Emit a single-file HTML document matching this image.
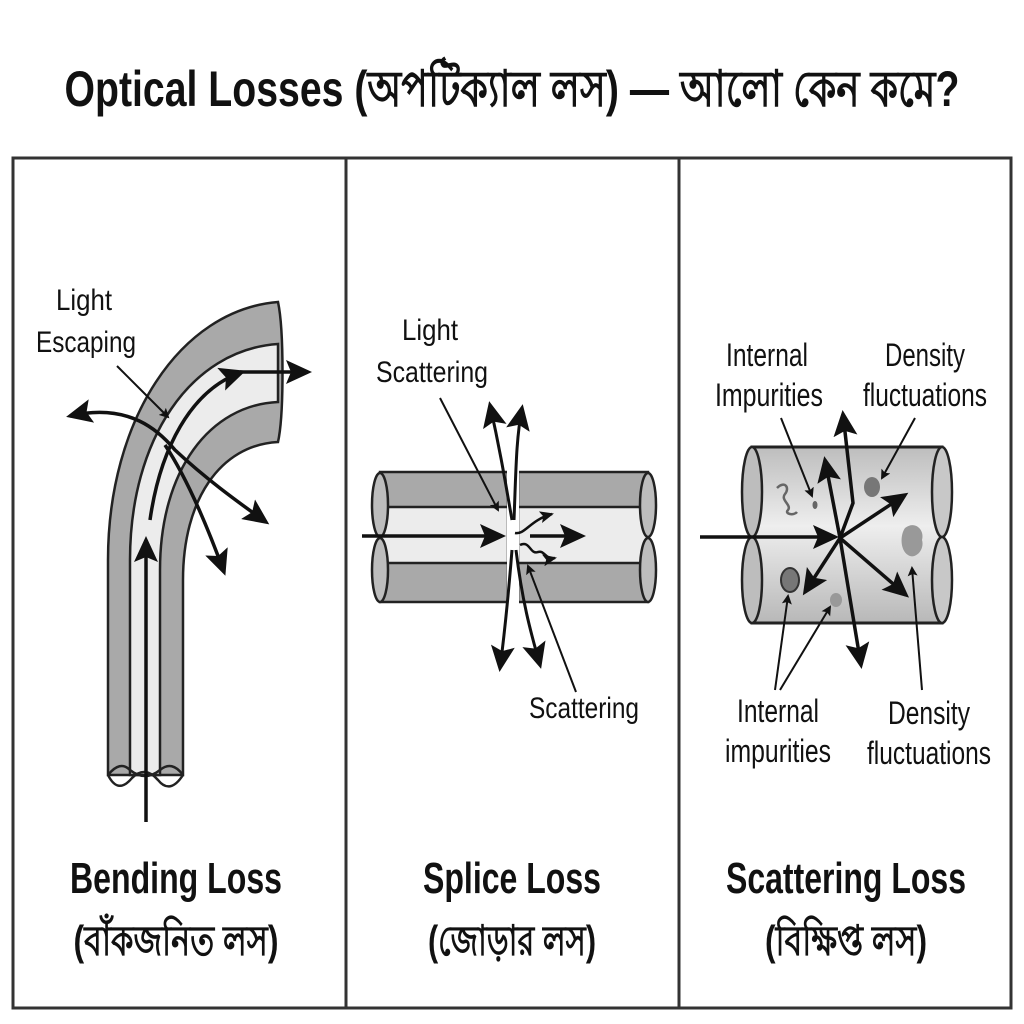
<!DOCTYPE html>
<html><head><meta charset="utf-8"><style>
html,body{margin:0;padding:0;background:#fff}
svg{display:block}
text{font-family:"Liberation Sans","Noto Sans CJK SC",sans-serif;fill:#111}
.t{font-weight:bold}
</style></head><body>
<svg width="1024" height="1024" viewBox="0 0 1024 1024" xmlns="http://www.w3.org/2000/svg">
<defs>
<marker id="ah" markerWidth="10" markerHeight="10" refX="8" refY="5" orient="auto" markerUnits="userSpaceOnUse" viewBox="0 0 10 10">
<path d="M0,0 L10,5 L0,10 L2,5 z" fill="#111"/></marker>
<marker id="ab" markerWidth="26" markerHeight="24" refX="22" refY="12" orient="auto-start-reverse" markerUnits="userSpaceOnUse" viewBox="0 0 26 24">
<path d="M0,0 L26,12 L0,24 L5,12 z" fill="#111"/></marker>
<marker id="as" markerWidth="14" markerHeight="12" refX="12" refY="6" orient="auto" markerUnits="userSpaceOnUse" viewBox="0 0 14 12">
<path d="M0,0 L14,6 L0,12 L3,6 z" fill="#111"/></marker>
<linearGradient id="cyl" x1="0" y1="0" x2="0" y2="1">
<stop offset="0" stop-color="#bdbdbd"/><stop offset="0.45" stop-color="#eeeeee"/><stop offset="1" stop-color="#b8b8b8"/></linearGradient>
</defs>
<rect width="1024" height="1024" fill="#fff"/>
<text x="512" y="106" class="t" font-size="50" text-anchor="middle" textLength="895" lengthAdjust="spacingAndGlyphs">Optical Losses (অপটিক্যাল লস) — আলো কেন কমে?</text>
<rect x="13" y="158" width="998" height="850" fill="none" stroke="#333" stroke-width="3"/>
<line x1="346" y1="158" x2="346" y2="1008" stroke="#333" stroke-width="3"/>
<line x1="679" y1="158" x2="679" y2="1008" stroke="#333" stroke-width="3"/>

<!-- Panel 1: bending -->
<path d="M108,775 L108,560 C108,420 180,310 278,302 C284,330 284,415 278,442 C220,445 183,500 183,580 L183,775 Z" fill="#a9a9a9" stroke="#222" stroke-width="2.5"/>
<path d="M130,775 L130,560 C130,440 190,350 278,344 L278,402 C210,405 160,470 160,570 L160,775 Z" fill="#ececec" stroke="#222" stroke-width="2.5"/>
<path d="M108,775 Q120,760 130,770 Q145,782 160,770 Q172,760 183,775" fill="none" stroke="#222" stroke-width="2.5"/>
<path d="M108,775 Q118,795 132,778 Q145,765 158,780 Q170,795 183,775" fill="none" stroke="#222" stroke-width="2.5"/>
<path d="M146,822 L146,540" stroke="#111" stroke-width="3.5" fill="none" marker-end="url(#ab)"/>
<path d="M150,520 C160,450 190,390 242,372" stroke="#111" stroke-width="3.5" fill="none" marker-end="url(#ab)"/>
<path d="M240,372 L308,372" stroke="#111" stroke-width="3.5" fill="none" marker-end="url(#ab)"/>
<path d="M70,416 C130,402 160,432 175,450 C205,478 235,500 266,522" stroke="#111" stroke-width="3.5" fill="none" marker-start="url(#ab)" marker-end="url(#ab)"/>
<path d="M165,445 C185,475 205,520 224,572" stroke="#111" stroke-width="3.5" fill="none" marker-end="url(#ab)"/>
<line x1="117" y1="366" x2="168" y2="417" stroke="#111" stroke-width="2" marker-end="url(#ah)"/>
<text x="84" y="310" font-size="30" text-anchor="middle" textLength="56" lengthAdjust="spacingAndGlyphs">Light</text>
<text x="86" y="352" font-size="30" text-anchor="middle" textLength="100" lengthAdjust="spacingAndGlyphs">Escaping</text>
<text x="176" y="893" class="t" font-size="44" text-anchor="middle" textLength="212" lengthAdjust="spacingAndGlyphs">Bending Loss</text>
<text x="176" y="955" class="t" font-size="42" text-anchor="middle" textLength="205" lengthAdjust="spacingAndGlyphs">(বাঁকজনিত লস)</text>

<!-- Panel 2: splice -->
<rect x="380" y="472" width="128" height="130" fill="#a9a9a9" stroke="#222" stroke-width="2.5"/>
<rect x="380" y="507" width="128" height="56" fill="#ececec" stroke="#222" stroke-width="2.5"/>
<rect x="518" y="472" width="130" height="130" fill="#a9a9a9" stroke="#222" stroke-width="2.5"/>
<rect x="518" y="507" width="130" height="56" fill="#ececec" stroke="#222" stroke-width="2.5"/>
<ellipse cx="380" cy="505" rx="8" ry="32" fill="#bdbdbd" stroke="#222" stroke-width="2.5"/>
<ellipse cx="380" cy="570" rx="8" ry="32" fill="#bdbdbd" stroke="#222" stroke-width="2.5"/>
<ellipse cx="648" cy="505" rx="8" ry="32" fill="#bdbdbd" stroke="#222" stroke-width="2.5"/>
<ellipse cx="648" cy="570" rx="8" ry="32" fill="#bdbdbd" stroke="#222" stroke-width="2.5"/>
<rect x="507" y="470" width="12" height="135" fill="#fff"/>
<line x1="362" y1="536" x2="502" y2="536" stroke="#111" stroke-width="3.5" marker-end="url(#ab)"/>
<line x1="530" y1="536" x2="582" y2="536" stroke="#111" stroke-width="3.5" marker-end="url(#ab)"/>
<path d="M512,520 C505,480 500,450 490,405" stroke="#111" stroke-width="3" fill="none" marker-end="url(#ab)"/>
<path d="M514,520 C516,470 516,440 522,408" stroke="#111" stroke-width="3" fill="none" marker-end="url(#ab)"/>
<path d="M512,550 C508,600 505,630 500,668" stroke="#111" stroke-width="3" fill="none" marker-end="url(#ab)"/>
<path d="M516,550 C522,600 530,630 540,665" stroke="#111" stroke-width="3" fill="none" marker-end="url(#ab)"/>
<path d="M515,533 C525,535 530,520 552,514" stroke="#111" stroke-width="2.5" fill="none" marker-end="url(#as)"/>
<path d="M520,545 C530,540 530,555 538,552 C545,550 545,560 555,558" stroke="#111" stroke-width="2.5" fill="none" marker-end="url(#as)"/>
<line x1="440" y1="398" x2="498" y2="510" stroke="#111" stroke-width="2" marker-end="url(#ah)"/>
<line x1="576" y1="692" x2="528" y2="566" stroke="#111" stroke-width="2" marker-end="url(#ah)"/>
<text x="430" y="340" font-size="30" text-anchor="middle" textLength="56" lengthAdjust="spacingAndGlyphs">Light</text>
<text x="432" y="382" font-size="30" text-anchor="middle" textLength="112" lengthAdjust="spacingAndGlyphs">Scattering</text>
<text x="584" y="718" font-size="30" text-anchor="middle" textLength="110" lengthAdjust="spacingAndGlyphs">Scattering</text>
<text x="512" y="893" class="t" font-size="44" text-anchor="middle" textLength="178" lengthAdjust="spacingAndGlyphs">Splice Loss</text>
<text x="512" y="955" class="t" font-size="42" text-anchor="middle" textLength="168" lengthAdjust="spacingAndGlyphs">(জোড়ার লস)</text>

<!-- Panel 3: scattering -->
<rect x="752" y="447" width="190" height="176" fill="url(#cyl)" stroke="#222" stroke-width="3"/>
<ellipse cx="752" cy="492" rx="10" ry="45" fill="#bdbdbd" stroke="#222" stroke-width="2.5"/>
<ellipse cx="752" cy="580" rx="10" ry="43" fill="#bdbdbd" stroke="#222" stroke-width="2.5"/>
<ellipse cx="942" cy="492" rx="10" ry="45" fill="#c8c8c8" stroke="#222" stroke-width="2.5"/>
<ellipse cx="942" cy="580" rx="10" ry="43" fill="#c8c8c8" stroke="#222" stroke-width="2.5"/>
<path d="M777,488 C785,480 790,488 785,494 C780,500 792,505 788,510 C784,514 794,516 797,512" stroke="#666" stroke-width="2.5" fill="none"/>
<ellipse cx="815" cy="505" rx="2.5" ry="4" fill="#666"/>
<ellipse cx="872" cy="487" rx="8" ry="10" fill="#777"/>
<path d="M905,528 C915,520 925,530 922,540 C925,550 915,560 908,555 C900,550 900,535 905,528 z" fill="#999"/>
<ellipse cx="790" cy="580" rx="9" ry="12" fill="#777" stroke="#333" stroke-width="2"/>
<ellipse cx="836" cy="600" rx="6" ry="7" fill="#999"/>
<line x1="700" y1="537" x2="835" y2="537" stroke="#111" stroke-width="3.5" marker-end="url(#ab)"/>
<g stroke="#111" stroke-width="3.5" fill="none">
<line x1="840" y1="538" x2="905" y2="495" marker-end="url(#ab)"/>
<line x1="840" y1="538" x2="906" y2="595" marker-end="url(#ab)"/>
<line x1="840" y1="538" x2="805" y2="592" marker-end="url(#ab)"/>
<line x1="840" y1="538" x2="825" y2="460" marker-end="url(#ab)"/>
<path d="M840,538 L853,503 L843,414" marker-end="url(#ab)"/>
<line x1="840" y1="538" x2="861" y2="665" marker-end="url(#ab)"/>
</g>
<g stroke="#111" stroke-width="2" fill="none">
<line x1="781" y1="418" x2="812" y2="496" marker-end="url(#ah)"/>
<line x1="915" y1="418" x2="882" y2="478" marker-end="url(#ah)"/>
<line x1="775" y1="690" x2="788" y2="596" marker-end="url(#ah)"/>
<line x1="780" y1="690" x2="830" y2="607" marker-end="url(#ah)"/>
<line x1="922" y1="690" x2="912" y2="568" marker-end="url(#ah)"/>
</g>
<text x="767" y="366" font-size="32" text-anchor="middle" textLength="82" lengthAdjust="spacingAndGlyphs">Internal</text>
<text x="769" y="406" font-size="32" text-anchor="middle" textLength="108" lengthAdjust="spacingAndGlyphs">Impurities</text>
<text x="925" y="366" font-size="32" text-anchor="middle" textLength="80" lengthAdjust="spacingAndGlyphs">Density</text>
<text x="925" y="406" font-size="32" text-anchor="middle" textLength="124" lengthAdjust="spacingAndGlyphs">fluctuations</text>
<text x="778" y="722" font-size="32" text-anchor="middle" textLength="82" lengthAdjust="spacingAndGlyphs">Internal</text>
<text x="778" y="762" font-size="32" text-anchor="middle" textLength="106" lengthAdjust="spacingAndGlyphs">impurities</text>
<text x="929" y="724" font-size="32" text-anchor="middle" textLength="82" lengthAdjust="spacingAndGlyphs">Density</text>
<text x="929" y="764" font-size="32" text-anchor="middle" textLength="124" lengthAdjust="spacingAndGlyphs">fluctuations</text>
<text x="846" y="893" class="t" font-size="44" text-anchor="middle" textLength="240" lengthAdjust="spacingAndGlyphs">Scattering Loss</text>
<text x="846" y="955" class="t" font-size="42" text-anchor="middle" textLength="162" lengthAdjust="spacingAndGlyphs">(বিক্ষিপ্ত লস)</text>
</svg>
</body></html>
